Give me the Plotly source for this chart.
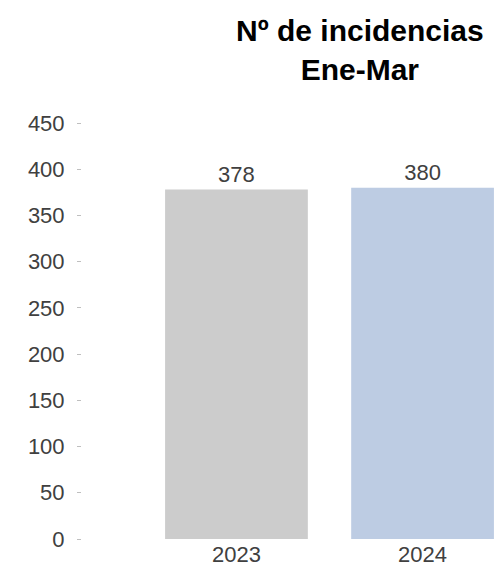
import plotly.graph_objects as go

categories = ["2023", "2024"]
values = [378, 380]
bar_colors = ["#CCCCCC", "#BDCCE3"]
y_ticks = [0, 50, 100, 150, 200, 250, 300, 350, 400, 450]
title_text = "<b>Nº de incidencias<br>Ene-Mar</b>"

fig = go.Figure(go.Bar(
    x=categories, y=values,
    marker=dict(color=bar_colors, line=dict(width=0)),
    width=0.767,
    text=[str(v) for v in values],
    textposition="outside",
    textfont=dict(family="Liberation Sans, Arial, sans-serif", size=22, color="#404040"),
    cliponaxis=False,
))

fig.add_annotation(
    text=title_text, xref="paper", yref="paper",
    x=0.670, y=1.1743, xanchor="center", yanchor="middle",
    showarrow=False, align="center",
    font=dict(family="Liberation Sans, Arial, sans-serif", size=30, color="#000000"),
)

fig.update_layout(
    width=497, height=569,
    margin=dict(l=82, r=0, t=123, b=30),
    plot_bgcolor="white", paper_bgcolor="white",
    showlegend=False,
    xaxis=dict(
        type="category", range=[-0.83, 1.40],
        showgrid=False, showline=False, zeroline=False, ticks="",
        tickfont=dict(family="Liberation Sans, Arial, sans-serif", size=22, color="#404040"),
    ),
    yaxis=dict(
        range=[0, 450], tickvals=y_ticks,
        showgrid=False, showline=False, zeroline=False,
        ticks="outside", ticklen=4, tickcolor="#BFBFBF", tickwidth=1,
        ticklabelstandoff=8,
        tickfont=dict(family="Liberation Sans, Arial, sans-serif", size=22, color="#404040"),
    ),
)

fig.write_html(
    "out.html",
    config={"displayModeBar": False},
    post_script="document.body.style.margin='0';document.body.style.overflow='hidden';",
)
